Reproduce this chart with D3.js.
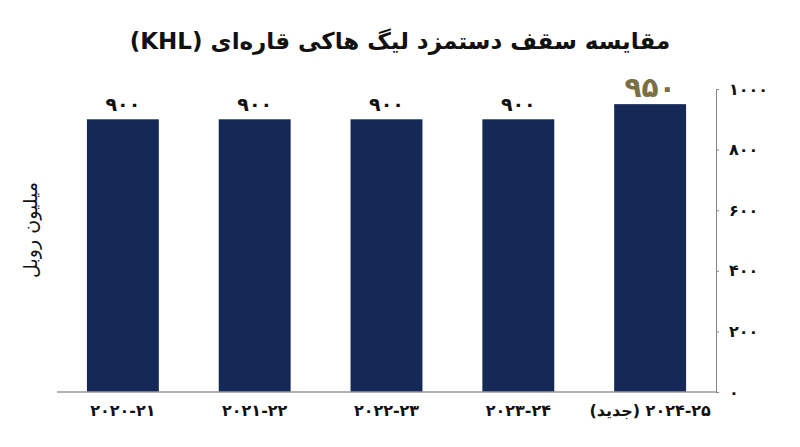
<!DOCTYPE html>
<html>
<head>
<meta charset="utf-8">
<script src="https://cdn.jsdelivr.net/npm/d3@7"></script>
<style>
  html, body { margin: 0; padding: 0; background: #fff; }
  svg text { font-family: "DejaVu Sans", "Noto Sans", sans-serif; }
</style>
</head>
<body>
<svg id="chart" width="800" height="447"></svg>
<script>
// seasons (left to right) and salary cap, million rubles
const seasons = ['۲۰۲۰-۲۱', '۲۰۲۱-۲۲', '۲۰۲۲-۲۳', '۲۰۲۳-۲۴', '۲۰۲۴-۲۵'];
const seasonSuffix = ['', '', '', '', ' (جدید)'];
const salaryCap = [900, 900, 900, 900, 950];
const yTicks = [0, 200, 400, 600, 800, 1000];

const title = 'مقایسه سقف دستمزد لیگ هاکی قاره‌ای (KHL)';
const yLabel = 'میلیون روبل';

const toFa = (n) => String(n).replace(/\d/g, (d) => '۰۱۲۳۴۵۶۷۸۹'[d]);

const svg = d3.select('#chart');
const margin = { top: 89, right: 84, bottom: 55, left: 57 };
const width = 800, height = 447;

const x = d3.scaleBand()
  .domain(seasons)
  .range([margin.left, width - margin.right])
  .paddingInner(0.4545)
  .paddingOuter(0.227);

const y = d3.scaleLinear()
  .domain([0, 1000])
  .range([height - margin.bottom, margin.top]);

svg.append('text')
  .attr('x', width / 2)
  .attr('y', 49)
  .attr('text-anchor', 'middle')
  .attr('direction', 'rtl')
  .attr('font-size', 23)
  .attr('font-weight', 'bold')
  .attr('fill', '#111')
  .text(title);

// bars
svg.append('g')
  .selectAll('rect')
  .data(seasons)
  .join('rect')
  .attr('x', (d) => x(d))
  .attr('width', x.bandwidth())
  .attr('y', (d, i) => y(salaryCap[i]))
  .attr('height', (d, i) => y(0) - y(salaryCap[i]))
  .attr('fill', '#142955');

// value labels
svg.append('g')
  .selectAll('text')
  .data(seasons)
  .join('text')
  .attr('x', (d) => x(d) + x.bandwidth() / 2)
  .attr('y', (d, i) => y(salaryCap[i]) - (i === 4 ? 7 : 8))
  .attr('text-anchor', 'middle')
  .attr('font-weight', 'bold')
  .attr('font-size', (d, i) => i === 4 ? 28 : 19)
  .attr('fill', (d, i) => i === 4 ? '#7b6f45' : '#111')
  .text((d, i) => toFa(salaryCap[i]));

// x axis
const xAxis = svg.append('g')
  .attr('transform', `translate(0,${y(0)})`)
  .call(d3.axisBottom(x).tickSize(0).tickPadding(12).tickFormat(''));
xAxis.select('.domain')
  .attr('stroke', '#999')
  .attr('stroke-width', 1.5)
  .attr('d', `M${margin.left},0H${width - margin.right}`);

svg.append('g')
  .selectAll('text')
  .data(seasons)
  .join('text')
  .attr('x', (d) => x(d) + x.bandwidth() / 2)
  .attr('y', y(0) + 24)
  .attr('text-anchor', 'middle')
  .attr('direction', 'rtl')
  .attr('font-weight', 'bold')
  .attr('font-size', 16)
  .attr('fill', '#111')
  .text((d, i) => '\u2066' + d + '\u2069' + seasonSuffix[i]);

// y axis on the right
const yAxis = svg.append('g')
  .attr('transform', `translate(${width - margin.right},0)`)
  .call(d3.axisRight(y).tickValues(yTicks).tickSize(3).tickPadding(10).tickFormat(toFa));
yAxis.select('.domain').attr('stroke', '#888');
yAxis.selectAll('.tick line').attr('stroke', '#888');
yAxis.selectAll('.tick text')
  .attr('font-size', 16)
  .attr('font-weight', 'bold')
  .attr('fill', '#111');

svg.append('text')
  .attr('transform', `translate(37,230) rotate(-90)`)
  .attr('text-anchor', 'middle')
  .attr('direction', 'rtl')
  .attr('font-size', 19)
  .attr('fill', '#111')
  .text(yLabel);
</script>
</body>
</html>
